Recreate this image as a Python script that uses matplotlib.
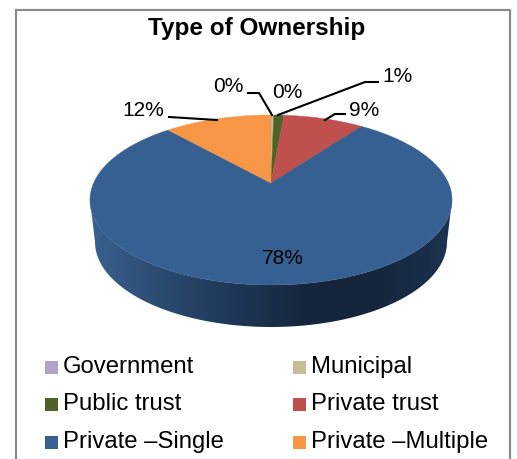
import numpy as np
import matplotlib
matplotlib.use('Agg')
import matplotlib.pyplot as plt
from matplotlib.colors import LinearSegmentedColormap
from matplotlib.patches import Rectangle, Polygon

plt.rcParams['font.family'] = ['Liberation Sans', 'DejaVu Sans']

# share of each ownership type, clockwise from 12 o'clock
categories = ['Government', 'Municipal', 'Public trust', 'Private trust', 'Private –Single', 'Private –Multiple']
values = [0.1, 0.2, 1.1, 8.7, 78.3, 11.6]
labels = ['0%', '0%', '1%', '9%', '78%', '12%']
colors = ['#b3a2c7', '#c4bd97', '#4f6228', '#c0504d', '#376092', '#f79646']

# pie geometry in pixels
cx, top_y = 271, 183
k, A, B = 0.2, 81.6, 177.4
depth = 42


def project(t):
    # disc seen in perspective, t in radians clockwise from the top
    d = 1 + k * np.cos(t)
    return cx + B * np.sin(t) / d, top_y - A * np.cos(t) / d


fig = plt.figure(figsize=(5.17, 4.59), dpi=100)
ax = fig.add_axes([0, 0, 1, 1])

# frame, runs off the bottom of the crop
ax.plot([16, 16, 510, 510], [459, 9.5, 9.5, 459], color='#8c8c8c', lw=1.6, solid_joinstyle='miter')

# side wall with horizontal gradient, from the widest point round the front
edge = np.arccos(-k)
tt = np.linspace(edge, 2 * np.pi - edge, 200)
ux, uy = project(tt)
lx = cx + (ux - cx) * 0.972
ly = uy + depth
wall = np.vstack([np.column_stack([ux, uy]), np.column_stack([lx, ly])[::-1]])
cmap = LinearSegmentedColormap.from_list('wall', ['#39618f', '#2b4a70', '#1e3756', '#15263c', '#15263c', '#1c3350'])
grad = ax.imshow(np.linspace(0, 1, 256).reshape(1, -1), cmap=cmap, extent=[90, 452, 330, 190], aspect='auto', zorder=1)
clip = Polygon(wall, closed=True, transform=ax.transData, fc='none', ec='none')
ax.add_patch(clip)
grad.set_clip_path(clip)

ax.set_xlim(0, 517)
ax.set_ylim(459, 0)
ax.axis('off')

# top of the pie
start = 0.0
for val, col in zip(values, colors):
    t = np.linspace(start, start + val, 120) / 100 * 2 * np.pi
    x, y = project(t)
    ax.fill(np.r_[cx, x], np.r_[top_y, y], color=col, lw=0.3, zorder=2)
    start += val

# title
ax.text(257, 29, 'Type of Ownership', ha='center', va='center', fontsize=17.5, fontweight='bold', color='black', zorder=5)

# data labels with their leader lines
label_x = [228, 287, 397, 364, 283, 143]
label_y = [86, 92, 76, 110, 258, 110]
leaders = [
    ([248, 259, 272], [93, 93, 115]),
    None,
    ([378, 365, 278], [82, 82, 115]),
    ([345, 335, 325], [114, 114, 120]),
    None,
    ([169, 217], [117, 120]),
]
for i in range(len(labels)):
    ax.text(label_x[i], label_y[i], labels[i], ha='center', va='center', fontsize=15, color='black', zorder=5)
    if leaders[i] is not None:
        ax.plot(leaders[i][0], leaders[i][1], color='black', lw=1.5, zorder=4)

# legend
legend_x = [45, 293, 45, 293, 45, 293]
legend_y = [367, 367, 404, 404, 442, 442]
for name, col, lx0, ly0 in zip(categories, colors, legend_x, legend_y):
    ax.add_patch(Rectangle((lx0, ly0 - 6.5), 13, 13, fc=col, ec='none', zorder=3))
    ax.text(lx0 + 18, ly0, name, ha='left', va='center', fontsize=17.2, color='black', zorder=5)

fig.savefig('out.png', dpi=100)
